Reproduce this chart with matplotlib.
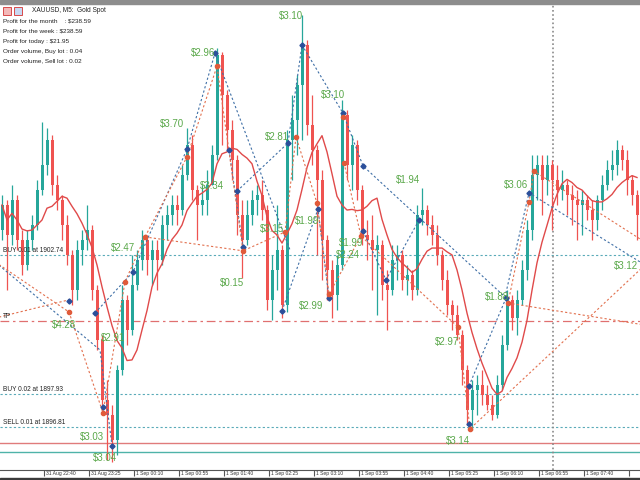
import numpy as np
import pandas as pd
import matplotlib
matplotlib.use("Agg")
import matplotlib.pyplot as plt
from matplotlib.patches import Rectangle
from matplotlib.transforms import blended_transform_factory

# XAUUSD M5 candles (price), open of each bar = previous close
first_open = 1903.60
closes = [1904.46, 1903.43, 1904.63, 1903.25, 1902.39, 1903.25, 1903.77, 1904.98, 1905.84, 1906.70,
          1905.15, 1904.63, 1903.77, 1902.74, 1901.53, 1902.91, 1903.25, 1903.60, 1901.53, 1899.81,
          1897.74, 1897.22, 1896.36, 1898.77, 1901.19, 1900.15, 1901.70, 1902.56, 1903.25, 1902.56,
          1902.91, 1902.56, 1903.77, 1904.12, 1904.46, 1904.29, 1905.50, 1906.53, 1904.98, 1904.46,
          1904.63, 1905.15, 1906.19, 1909.63, 1908.25, 1907.05, 1906.01, 1904.12, 1903.25, 1904.12,
          1904.63, 1904.81, 1904.29, 1901.19, 1902.22, 1902.91, 1901.01, 1906.70, 1907.39, 1908.60,
          1909.98, 1907.22, 1906.36, 1905.32, 1903.25, 1902.22, 1901.36, 1902.39, 1907.56, 1905.84,
          1906.53, 1904.98, 1903.43, 1903.25, 1902.91, 1903.08, 1901.70, 1901.53, 1902.56, 1902.74,
          1901.88, 1902.05, 1901.53, 1904.12, 1904.29, 1903.77, 1903.43, 1902.74, 1901.88, 1901.01,
          1900.67, 1899.98, 1898.77, 1897.39, 1898.08, 1898.25, 1897.91, 1897.56, 1897.22, 1898.25,
          1899.63, 1901.19, 1900.56, 1901.19, 1902.22, 1903.60, 1905.50, 1905.84, 1905.32, 1905.84,
          1905.32, 1904.98, 1905.15, 1904.81, 1904.63, 1904.46, 1904.63, 1904.29, 1903.94, 1904.63,
          1905.15, 1905.67, 1905.84, 1906.36, 1906.01, 1905.32, 1904.81, 1904.12]
highs = [1904.81, 1904.63, 1905.15, 1904.81, 1903.60, 1903.60, 1904.12, 1905.32, 1907.32, 1907.12,
         1906.88, 1905.50, 1904.81, 1904.12, 1902.91, 1903.25, 1903.60, 1904.46, 1903.77, 1901.70,
         1899.98, 1898.43, 1897.56, 1898.94, 1901.70, 1901.36, 1902.74, 1902.91, 1903.60, 1903.43,
         1903.25, 1903.25, 1904.12, 1904.46, 1904.81, 1904.81, 1905.84, 1907.12, 1906.88, 1905.15,
         1905.15, 1905.67, 1906.53, 1909.88, 1909.74, 1908.43, 1907.39, 1906.19, 1904.63, 1904.63,
         1904.98, 1905.15, 1905.32, 1904.46, 1902.74, 1904.46, 1903.08, 1907.05, 1908.25, 1908.94,
         1911.01, 1910.15, 1908.25, 1906.53, 1905.67, 1903.43, 1902.56, 1902.74, 1908.08, 1907.74,
         1906.88, 1906.70, 1905.15, 1903.94, 1904.12, 1903.43, 1903.25, 1902.22, 1903.08, 1903.08,
         1902.91, 1902.39, 1902.22, 1904.46, 1905.05, 1904.46, 1904.12, 1903.77, 1902.91, 1902.22,
         1901.19, 1901.01, 1900.15, 1898.94, 1898.43, 1898.60, 1898.77, 1898.25, 1897.91, 1898.60,
         1899.98, 1901.53, 1901.36, 1901.53, 1902.56, 1903.94, 1906.19, 1906.19, 1906.19, 1906.19,
         1906.01, 1905.84, 1905.67, 1905.32, 1905.15, 1904.98, 1904.98, 1904.81, 1904.63, 1904.81,
         1905.50, 1906.01, 1906.36, 1906.70, 1906.53, 1906.36, 1905.50, 1904.98]
lows = [1903.25, 1901.53, 1903.08, 1902.91, 1902.05, 1902.22, 1902.91, 1903.60, 1904.81, 1905.50,
        1904.81, 1904.29, 1903.25, 1902.39, 1901.01, 1901.19, 1902.39, 1902.91, 1901.19, 1899.46,
        1897.39, 1895.67, 1895.60, 1895.84, 1898.60, 1899.63, 1899.98, 1901.53, 1902.22, 1902.05,
        1901.70, 1901.53, 1902.39, 1903.25, 1903.77, 1903.77, 1904.12, 1905.32, 1904.63, 1903.25,
        1904.12, 1904.12, 1905.15, 1906.01, 1906.53, 1906.36, 1905.32, 1903.43, 1901.94, 1903.08,
        1903.77, 1904.12, 1903.94, 1900.84, 1900.50, 1901.53, 1900.56, 1900.77, 1905.32, 1906.19,
        1906.70, 1906.88, 1905.84, 1902.74, 1901.88, 1901.19, 1900.56, 1900.84, 1902.22, 1905.32,
        1904.98, 1904.63, 1903.08, 1902.56, 1901.53, 1900.67, 1901.19, 1900.15, 1901.36, 1901.88,
        1901.53, 1901.36, 1901.19, 1901.36, 1903.77, 1903.43, 1903.08, 1902.39, 1901.53, 1900.67,
        1900.15, 1899.81, 1898.25, 1896.87, 1896.70, 1897.22, 1897.56, 1897.39, 1897.05, 1897.12,
        1898.08, 1899.46, 1900.15, 1899.98, 1901.01, 1901.88, 1903.25, 1904.63, 1904.12, 1904.81,
        1903.60, 1904.46, 1904.63, 1904.12, 1903.77, 1903.25, 1903.43, 1903.94, 1903.25, 1903.60,
        1904.29, 1904.98, 1905.32, 1905.50, 1905.67, 1904.81, 1904.46, 1903.25]

# order levels
buy1_price, buy2_price, sell1_price = 1902.74, 1897.93, 1896.81
tp_price = 1900.46
red_level = 1896.25
teal_level = 1895.94
cursor_bar = 110.2

# closed trade profits (label, bar, price)
profit_labels = [("$3.10", 57.8, 1910.98), ("$2.96", 40.2, 1909.70), ("$3.70", 34.0, 1907.25),
                 ("$3.10", 66.2, 1908.25), ("$2.81", 55.0, 1906.81), ("$3.34", 42.0, 1905.12),
                 ("$1.94", 81.2, 1905.32), ("$3.06", 102.8, 1905.15), ("$1.99", 61.0, 1903.91),
                 ("$3.15", 54.0, 1903.63), ("$1.99", 69.8, 1903.15), ("$2.24", 69.2, 1902.74),
                 ("$2.47", 24.2, 1902.98), ("$0.15", 46.0, 1901.77), ("$4.28", 12.4, 1900.32),
                 ("$2.99", 61.8, 1900.98), ("$1.88", 99.0, 1901.29), ("$2.97", 89.0, 1899.74),
                 ("$2.91", 22.2, 1899.88), ("$3.03", 18.0, 1896.46), ("$3.04", 20.6, 1895.74),
                 ("$3.14", 91.2, 1896.32), ("$3.12", 124.8, 1902.36)]

# entry/exit markers
blue_bar = [13.4, 18.6, 20.2, 22.0, 26.2, 37.0, 42.6, 45.4, 47.0, 48.2, 56.0, 57.2, 60.0, 63.2,
            65.4, 68.2, 72.2, 72.2, 76.8, 83.4, 93.4, 93.4, 100.8, 105.4]
blue_price = [1901.15, 1900.74, 1897.50, 1896.15, 1902.15, 1906.39, 1909.70, 1906.36, 1904.94,
              1903.01, 1900.81, 1906.60, 1909.98, 1904.32, 1901.25, 1907.63, 1905.81, 1903.56,
              1901.88, 1903.94, 1898.22, 1896.91, 1901.25, 1904.88]
red_bar = [13.4, 20.2, 24.6, 28.6, 37.0, 43.0, 48.2, 56.6, 58.8, 63.0, 65.4, 68.2, 68.4, 71.8,
           91.2, 93.6, 101.2, 105.4, 106.4]
red_price = [1900.77, 1897.29, 1901.81, 1903.36, 1906.12, 1909.25, 1902.88, 1903.53, 1906.81,
             1904.53, 1901.39, 1907.50, 1905.91, 1903.39, 1900.25, 1896.74, 1901.08, 1904.56,
             1905.63]

# dotted trade paths (bars, prices)
blue_paths = [
    ([-1.4, 19.6, 22.0], [1902.50, 1899.46, 1896.15]),
    ([18.6, 26.2, 37.0, 42.6, 57.6], [1900.74, 1902.15, 1906.39, 1909.70, 1902.91]),
    ([47.0, 57.2, 60.0, 68.2, 72.2, 100.6, 105.4, 128.6],
     [1904.94, 1906.60, 1909.98, 1907.63, 1905.81, 1901.29, 1904.88, 1902.39]),
    ([56.0, 63.2, 65.4], [1900.81, 1904.32, 1901.25]),
    ([72.2, 76.8, 83.4], [1903.56, 1901.88, 1903.94]),
    ([93.4, 100.8], [1898.22, 1901.25]),
    ([45.4, 48.2], [1906.36, 1903.01]),
]
red_paths = [
    ([-1.4, 13.4], [1902.50, 1900.77]),
    ([-1.4, 13.4], [1900.56, 1901.19]),
    ([13.4, 20.2, 24.6, 28.6, 37.0, 43.0, 48.2, 56.6, 58.8, 63.0, 65.4, 71.8, 91.2, 93.6, 128.6],
     [1900.77, 1897.29, 1901.81, 1903.36, 1906.12, 1909.25, 1902.88, 1903.53, 1906.81, 1904.53,
      1901.39, 1903.39, 1900.25, 1896.74, 1902.39]),
    ([28.6, 48.2], [1903.36, 1902.88]),
    ([68.4, 71.8], [1905.91, 1903.39]),
    ([101.2, 128.6], [1901.08, 1900.32]),
    ([101.2, 105.4, 106.4, 128.6], [1901.08, 1904.56, 1905.63, 1903.18]),
]

time_labels = ["31 Aug 22:40", "31 Aug 23:25", "1 Sep 00:10", "1 Sep 00:55", "1 Sep 01:40",
               "1 Sep 02:25", "1 Sep 03:10", "1 Sep 03:55", "1 Sep 04:40", "1 Sep 05:25",
               "1 Sep 06:10", "1 Sep 06:55", "1 Sep 07:40"]

header = ["Profit for the month    : $238.59", "Profit for the week : $238.59",
          "Profit for today : $21.95", "Order volume, Buy lot : 0.04",
          "Order volume, Sell lot : 0.02"]

BULL = "#26a69a"
BEAR = "#ef5350"
GREEN_TXT = "#5aa84a"
BLUE_DOT = "#3f6fa6"
RED_DOT = "#e2704e"
LEVEL = "#5aaab8"

closes = np.array(closes)
highs = np.array(highs)
lows = np.array(lows)
opens = np.r_[first_open, closes[:-1]]
idx = np.arange(len(closes))
up = closes >= opens

fig = plt.figure(figsize=(6.4, 4.8), dpi=100)
ax = fig.add_axes([0, 10 / 480, 1, 465 / 480])
ax.set_xlim(-0.4, 127.6)
ax.set_ylim(1895.32, 1911.36)

# order / level lines
for p in (buy1_price, buy2_price, sell1_price):
    ax.axhline(p, color=LEVEL, ls=(0, (2, 2)), lw=0.8, zorder=1)
ax.axhline(tp_price, color="#e07070", ls=(0, (7, 3, 2, 3)), lw=0.9, zorder=1)
ax.axhline(red_level, color="#e07b7b", lw=1.0, zorder=1)
ax.axhline(teal_level, color="#4fb3a9", lw=1.0, zorder=1)
ax.axvline(cursor_bar, color="#8a8a8a", ls=(0, (1, 1.5)), lw=1.2, zorder=1)

# candles
colors = np.where(up, BULL, BEAR)
ax.vlines(idx, lows, highs, colors=colors, lw=0.9, zorder=2)
body = np.maximum(np.abs(closes - opens), 0.04)
ax.bar(idx, body, bottom=np.minimum(opens, closes), width=0.6, color=colors, lw=0, zorder=3)

# moving average
ma = pd.Series(closes).rolling(8, min_periods=1).mean()
ax.plot(idx, ma, color="#e04a4a", lw=1.0, zorder=4)

# trade paths
for xs, ys in blue_paths:
    ax.plot(xs, ys, color=BLUE_DOT, ls=(0, (2, 2)), lw=0.8, zorder=5)
for xs, ys in red_paths:
    ax.plot(xs, ys, color=RED_DOT, ls=(0, (2, 2)), lw=0.8, zorder=5)
ax.plot(blue_bar, blue_price, "D", color="#2b4f9a", ms=2.6, zorder=6)
ax.plot(red_bar, red_price, "o", color="#e05a3a", ms=3.0, zorder=6)

for txt, b, p in profit_labels:
    ax.text(b, p, txt, color=GREEN_TXT, fontsize=7, family="Liberation Sans",
            ha="center", va="center", zorder=7)

# level captions
cap = dict(fontsize=4.7, family="Liberation Sans", color="#222222", ha="left", va="bottom", zorder=7)
ax.text(0.2, buy1_price + 0.03, f"BUY 0.01 at {buy1_price:.2f}", **cap)
ax.text(0.2, buy2_price + 0.03, f"BUY 0.02 at {buy2_price:.2f}", **cap)
ax.text(0.2, sell1_price + 0.03, f"SELL 0.01 at {sell1_price:.2f}", **cap)
ax.text(0.2, tp_price + 0.03, "TP", **cap)

# axes frame like the terminal
for s in ("left", "right", "top"):
    ax.spines[s].set_visible(False)
ax.spines["bottom"].set_color("#555555")
ax.spines["bottom"].set_linewidth(0.8)
ax.set_yticks([])
tick_pos = np.arange(14) * 9 + 8.4
ax.set_xticks(tick_pos)
ax.set_xticklabels([])
ax.tick_params(axis="x", direction="out", length=4.5, width=0.8, color="#555555")
trans = blended_transform_factory(ax.transData, ax.transAxes)
for pos, lab in zip(tick_pos, time_labels):
    ax.text(pos + 0.4, -0.003, lab, transform=trans, fontsize=3.6, family="Liberation Sans",
            color="#333333", ha="left", va="top", clip_on=False)

# header block
fig.patches.append(Rectangle((0, 1 - 3.5 / 480), 1, 3.5 / 480, transform=fig.transFigure,
                             color="#8d8d8d", zorder=10))
fig.patches.append(Rectangle((0, 0), 1, 2.5 / 480, transform=fig.transFigure,
                             color="#3a3a3a", zorder=10))
fig.patches.append(Rectangle((3 / 640, 1 - 15 / 480), 8 / 640, 8 / 480, transform=fig.transFigure,
                             facecolor="#f3b9b9", edgecolor="#d84a4a", lw=0.7, zorder=10))
fig.patches.append(Rectangle((14 / 640, 1 - 15 / 480), 8 / 640, 8 / 480, transform=fig.transFigure,
                             facecolor="#c8d8f2", edgecolor="#d84a4a", lw=0.7, zorder=10))
fig.text(32 / 640, 1 - 11 / 480, "XAUUSD, M5:  Gold Spot", fontsize=4.7, family="Liberation Sans",
         color="#222222", va="center")
for k, line in enumerate(header):
    fig.text(3 / 640, 1 - (21 + 10 * k) / 480, line, fontsize=4.6, family="Liberation Sans",
             color="#222222", va="center")

fig.savefig("out.png", dpi=100, facecolor="white")
